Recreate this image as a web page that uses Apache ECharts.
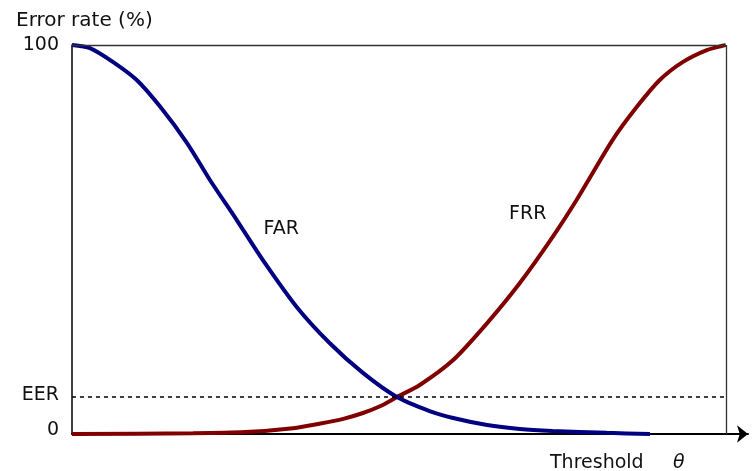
<!DOCTYPE html>
<html><head><meta charset="utf-8">
<script src="https://cdn.jsdelivr.net/npm/echarts@6/dist/echarts.min.js"></script>
<style>html,body{margin:0;padding:0;background:#fff}#c{width:753px;height:471px}</style>
</head><body><div id="c"></div>
<script>
// Threshold (0-100) and error rates (%)
const farX = [0, 2.75, 6.3, 9.9, 13.5, 17.6, 21.1, 25.2, 29.2, 34.4, 39.4, 44.5, 49.7, 54.7, 58.3, 63.5, 68.5, 73.5, 81.8, 88.4];
const farY = [100, 99.2, 95.6, 91.0, 84.1, 74.8, 65.3, 55.0, 44.7, 32.6, 23.4, 15.7, 9.5, 5.9, 4.1, 2.3, 1.3, 0.8, 0.3, 0];
const frrX = [0, 18.5, 26.5, 33.8, 38.0, 41.5, 44.5, 47.2, 49.7, 53.2, 58.3, 63.5, 68.5, 73.5, 77.2, 82.7, 86.4, 89.9, 93.4, 97.1, 100];
const frrY = [0, 0.2, 0.5, 1.5, 2.7, 3.9, 5.4, 7.2, 9.5, 12.6, 19.0, 28.5, 38.8, 50.6, 60.2, 75.6, 84.1, 91.0, 95.6, 98.7, 100];
const eer = 9.5;
const yTicks = [0, eer, 100];
const yTickText = ['0', 'EER', '100'];

const FONT = 'DejaVu Sans';
const chart = echarts.init(document.getElementById('c'));
const zip = (a, b) => a.map((v, i) => [v, b[i]]);

chart.setOption({
  animation: false,
  backgroundColor: '#fff',
  textStyle: { fontFamily: FONT },
  title: [
    { text: 'Error rate (%)', left: 11, top: 6, textStyle: { fontFamily: FONT, fontSize: 20, fontWeight: 'normal', color: '#111' } },
    { text: 'Threshold', left: 545, top: 449, textStyle: { fontFamily: FONT, fontSize: 19, fontWeight: 'normal', color: '#111' } },
    { text: 'θ', left: 668, top: 449, textStyle: { fontFamily: FONT, fontSize: 19, fontStyle: 'italic', fontWeight: 'normal', color: '#111' } }
  ],
  grid: { left: 72, right: 5, top: 45, bottom: 37 },
  xAxis: {
    type: 'value', min: 0, max: 103.4,
    axisLine: { show: true, symbol: ['none', 'arrow'], symbolSize: [13, 11], lineStyle: { color: '#000', width: 2 } },
    axisTick: { show: false }, axisLabel: { show: false }, splitLine: { show: false }
  },
  yAxis: {
    type: 'value', min: 0, max: 100,
    axisLine: { show: true, lineStyle: { color: '#000', width: 1.5 } },
    axisTick: { show: false }, splitLine: { show: false },
    axisLabel: {
      customValues: yTicks, margin: 13, color: '#111', fontFamily: FONT, fontSize: 19,
      formatter: v => { const t = yTickText[yTicks.indexOf(v)]; return v === 0 ? '{z|' + t + '}' : (v === eer ? '{e|' + t + '}' : t); },
      rich: { z: { fontSize: 19, fontFamily: FONT, color: '#111', padding: [0, 0, 8, 0] }, e: { fontSize: 19, fontFamily: FONT, color: '#111', padding: [0, 0, 4, 0] } }
    }
  },
  series: [
    {
      name: 'FRR', type: 'line', data: zip(frrX, frrY), smooth: 0.25, showSymbol: false, clip: false,
      lineStyle: { color: '#800000', width: 4 }, z: 3,
      markPoint: {
        symbol: 'circle', symbolSize: 0,
        label: { show: true, formatter: 'FRR', color: '#111', fontFamily: FONT, fontSize: 19 },
        data: [{ coord: [69.7, 56.6] }]
      },
      markLine: {
        silent: true, symbol: 'none', label: { show: false },
        lineStyle: { color: '#333', width: 1.3, type: 'solid' },
        data: [
          [{ coord: [0, 100] }, { coord: [100, 100] }],
          [{ coord: [100, 0] }, { coord: [100, 100] }]
        ]
      }
    },
    {
      name: 'FAR', type: 'line', data: zip(farX, farY), smooth: 0.25, showSymbol: false, clip: false,
      lineStyle: { color: '#000080', width: 4 }, z: 4,
      markPoint: {
        symbol: 'circle', symbolSize: 0,
        label: { show: true, formatter: 'FAR', color: '#111', fontFamily: FONT, fontSize: 19 },
        data: [{ coord: [32.0, 52.7] }]
      },
      markLine: {
        silent: true, symbol: 'none', label: { show: false },
        lineStyle: { color: '#000', width: 1.5, type: [4, 4] },
        data: [[{ coord: [0, eer] }, { coord: [100, eer] }]]
      }
    }
  ]
});
</script></body></html>
